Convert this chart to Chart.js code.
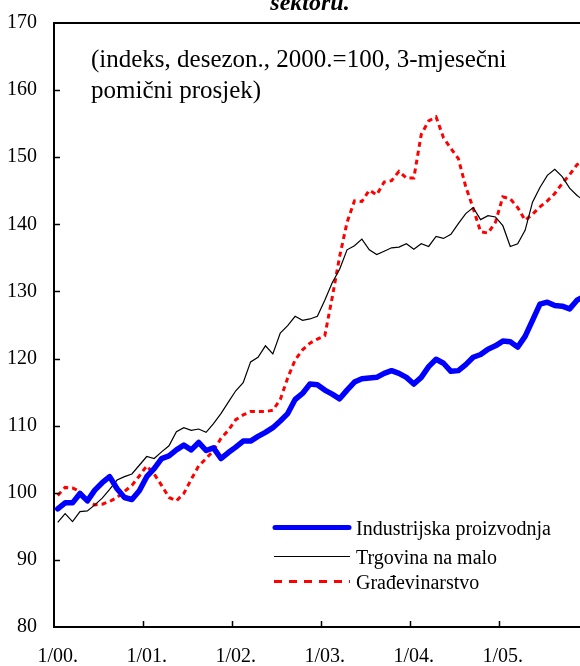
<!DOCTYPE html>
<html><head><meta charset="utf-8">
<script src="https://cdn.jsdelivr.net/npm/chart.js@4.4.1/dist/chart.umd.min.js"></script>
<style>html,body{margin:0;padding:0;background:#fff;overflow:hidden}#wrap{position:relative;width:580px;height:666px;overflow:hidden}#c{position:absolute;left:0;top:-6px}</style>
</head><body><div id="wrap"><canvas id="c" width="580" height="672"></canvas></div>
<script>
// x-axis labels (January of each year) and their month index
const xTickLabels = ['1/00.', '1/01.', '1/02.', '1/03.', '1/04.', '1/05.'];
const xTickIndex = [0, 12, 24, 36, 48, 60];
const yearBoundaries = [11.5, 23.5, 35.5, 47.5, 59.5];
const seriesNames = ['Industrijska proizvodnja', 'Trgovina na malo', 'Građevinarstvo'];

// monthly values, 1/00 onward
const industrija = [97.6, 98.5, 98.5, 99.9, 98.8, 100.4, 101.5, 102.4, 100.6, 99.3, 99.0, 100.3,
  102.4, 103.6, 105.1, 105.5, 106.4, 107.1, 106.4, 107.5, 106.3, 106.7, 105.1, 106.0,
  106.8, 107.7, 107.7, 108.4, 109.0, 109.7, 110.7, 111.8, 113.9, 114.8, 116.2, 116.1,
  115.3, 114.7, 114.0, 115.3, 116.5, 117.0, 117.1, 117.2, 117.8, 118.2, 117.8, 117.2,
  116.2, 117.2, 118.8, 119.9, 119.3, 118.1, 118.2, 119.1, 120.2, 120.6, 121.4, 121.9,
  122.6, 122.5, 121.7, 123.3, 125.7, 128.1, 128.4, 127.9, 127.8, 127.4, 128.7, 129.3];
const trgovina = [95.6, 96.9, 95.7, 97.2, 97.3, 98.2, 99.2, 100.5, 101.9, 102.4, 102.8, 104.1,
  105.4, 105.1, 106.1, 107.0, 109.1, 109.7, 109.3, 109.5, 109.0, 110.3, 111.8, 113.5,
  115.2, 116.4, 119.5, 120.2, 121.9, 120.7, 123.8, 124.9, 126.3, 125.7, 125.9, 126.3,
  128.7, 131.3, 133.3, 136.2, 136.8, 137.8, 136.2, 135.5, 136.0, 136.5, 136.6, 137.1,
  136.3, 137.1, 136.7, 138.2, 137.9, 138.5, 140.1, 141.6, 142.5, 140.7, 141.3, 141.1,
  139.8, 136.7, 137.1, 139.1, 143.3, 145.5, 147.3, 148.2, 147.1, 145.4, 144.3, 143.5];
const gradjevinarstvo = [99.6, 100.8, 100.7, 100.2, 98.7, 98.2, 98.3, 98.7, 99.3, 100.2, 101.1, 102.5,
  104.0, 102.8, 101.1, 99.3, 98.8, 99.9, 102.0, 104.0, 105.1, 106.3, 108.1, 109.3,
  110.9, 111.6, 112.1, 112.1, 112.1, 112.3, 113.9, 117.1, 119.8, 121.3, 122.3, 122.9,
  123.4, 129.1, 135.2, 140.3, 143.5, 143.4, 145.1, 144.4, 146.3, 146.5, 147.9, 146.9,
  146.9, 153.4, 155.4, 156.0, 152.9, 151.3, 149.8, 145.6, 142.4, 138.9, 138.7, 140.3,
  144.1, 143.8, 142.5, 140.6, 141.5, 142.6, 143.5, 144.6, 146.1, 147.4, 148.9, 149.5];

const FONT = "'Liberation Serif', 'Times New Roman', serif";
const OFF = 6; // canvas is shifted up by this many pixels
const toXY = arr => arr.map((v, i) => ({x: i, y: v}));

const overlay = {
  id: 'overlay',
  afterDraw(chart) {
    const {ctx, chartArea: a, scales: {x, y}} = chart;
    ctx.save();
    ctx.strokeStyle = '#000';
    // top frame line
    ctx.lineWidth = 2;
    ctx.beginPath(); ctx.moveTo(a.left - 1, a.top); ctx.lineTo(a.right, a.top); ctx.stroke();
    // inward y tick marks
    ctx.lineWidth = 1.5;
    y.ticks.forEach(t => {
      if (t.value <= 80 || t.value >= 170) return;
      const py = Math.round(y.getPixelForValue(t.value)) + 0.5;
      ctx.beginPath(); ctx.moveTo(a.left, py); ctx.lineTo(a.left + 6, py); ctx.stroke();
    });
    // inward x tick marks at year boundaries
    yearBoundaries.forEach(b => {
      const px = Math.round(x.getPixelForValue(b)) + 0.5;
      ctx.beginPath(); ctx.moveTo(px, a.bottom); ctx.lineTo(px, a.bottom - 6); ctx.stroke();
    });
    // title remnant
    ctx.fillStyle = '#000';
    ctx.font = "italic bold 24px " + FONT;
    ctx.textAlign = 'center'; ctx.textBaseline = 'alphabetic';
    ctx.fillText('sektoru.', 310, 10 + OFF);
    // annotation
    ctx.font = "25px " + FONT;
    ctx.textAlign = 'left';
    ctx.fillText('(indeks, desezon., 2000.=100, 3-mjesečni', 91, 67 + OFF);
    ctx.fillText('pomični prosjek)', 91, 98 + OFF);
    // legend
    const rows = [527.5, 556.5, 581.5];
    const styles = [
      {c: '#0000ff', w: 5, d: [], cap: 'round'},
      {c: '#000000', w: 1, d: [], cap: 'butt'},
      {c: '#ff0000', w: 3, d: [8, 7], cap: 'butt'}
    ];
    ctx.font = "20px " + FONT;
    rows.forEach((r, i) => {
      const ry = r + OFF;
      const s = styles[i];
      ctx.strokeStyle = s.c; ctx.lineWidth = s.w; ctx.setLineDash(s.d); ctx.lineCap = s.cap;
      ctx.beginPath(); ctx.moveTo(i === 0 ? 275 : 274, ry); ctx.lineTo(i === 0 ? 349 : 350, ry); ctx.stroke();
      ctx.setLineDash([]);
      ctx.fillStyle = '#000';
      ctx.fillText(seriesNames[i], 356, ry + 7);
    });
    ctx.restore();
  }
};

new Chart(document.getElementById('c'), {
  type: 'line',
  data: {
    datasets: [
      {label: seriesNames[0], data: toXY(industrija), borderColor: '#0000ff', borderWidth: 5.5,
       pointRadius: 0, tension: 0, borderJoinStyle: 'round', borderCapStyle: 'round'},
      {label: seriesNames[1], data: toXY(trgovina), borderColor: '#000000', borderWidth: 1.2,
       pointRadius: 0, tension: 0},
      {label: seriesNames[2], data: toXY(gradjevinarstvo), borderColor: '#ff0000', borderWidth: 3,
       borderDash: [5, 4], pointRadius: 0, tension: 0}
    ]
  },
  options: {
    responsive: false,
    animation: false,
    devicePixelRatio: 1,
    layout: {padding: {top: 16, right: 0, bottom: 0, left: 0}},
    plugins: {legend: {display: false}, tooltip: {enabled: false}, title: {display: false}},
    scales: {
      x: {
        type: 'linear', min: -0.5, max: 70.4,
        afterBuildTicks: s => { s.ticks = xTickIndex.map(v => ({value: v})); },
        afterFit: s => { s.height = 39; },
        ticks: {
          callback: (v) => { const k = xTickIndex.indexOf(v); return k >= 0 ? xTickLabels[k] : ''; },
          font: {family: FONT, size: 20}, color: '#000', padding: 18, maxRotation: 0, autoSkip: false
        },
        grid: {display: false, drawTicks: false},
        border: {display: true, color: '#000', width: 2}
      },
      y: {
        min: 80, max: 170,
        afterFit: s => { s.width = 54; },
        ticks: {stepSize: 10, font: {family: FONT, size: 20}, color: '#000', padding: 17},
        grid: {display: false, drawTicks: false},
        border: {display: true, color: '#000', width: 2}
      }
    }
  },
  plugins: [overlay]
});
</script>
</body></html>
